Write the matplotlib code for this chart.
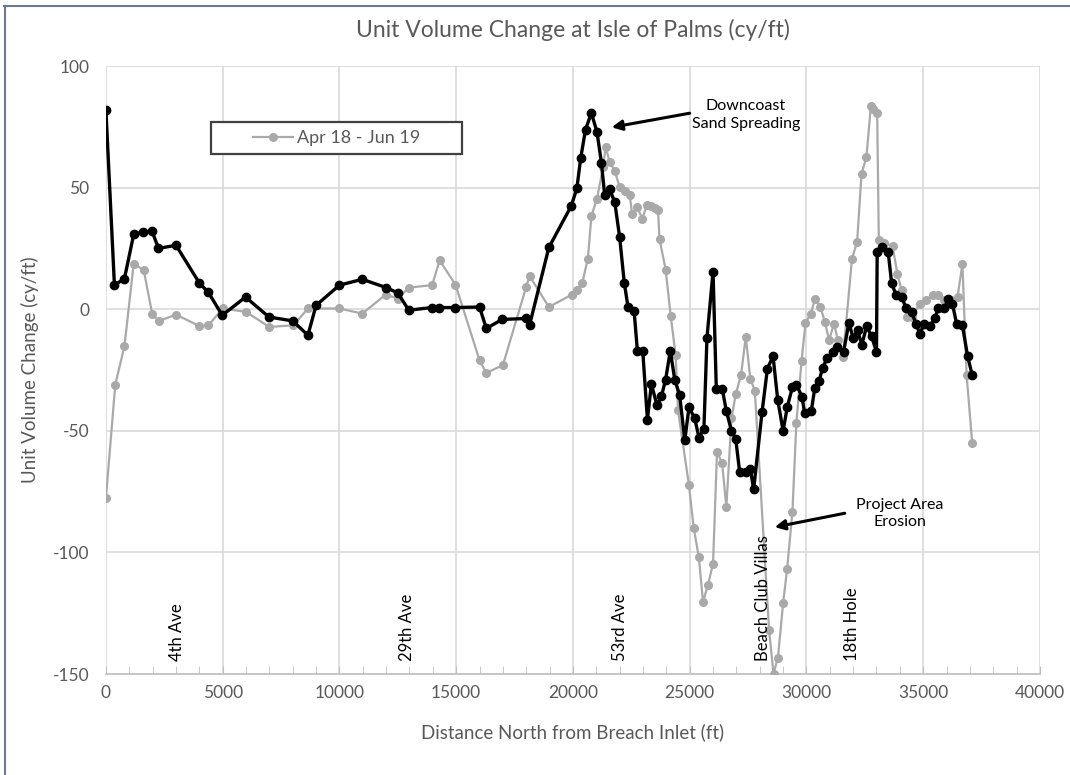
import matplotlib
matplotlib.use("Agg")
import matplotlib.pyplot as plt
from matplotlib.patches import Rectangle
from matplotlib.lines import Line2D
from matplotlib.ticker import MultipleLocator

plt.rcParams['font.family'] = ['Lato', 'DejaVu Sans']
plt.rcParams['axes.unicode_minus'] = False

# Black series (no legend entry)
dist_black = [0, 364, 793, 1190, 1580, 1980, 2250, 3000, 4000, 4390, 4980, 5980,
              6980, 8000, 8650, 9000, 10000, 10980, 12000, 12500, 12970, 13970,
              14260, 14970, 16000, 16290, 16970, 18000, 18140, 18970, 19930, 20170,
              20330, 20540, 20790, 21030, 21220, 21360, 21570, 21790, 22000, 22200,
              22360, 22620, 22760, 22990, 23190, 23360, 23600, 23790, 23970, 24170,
              24360, 24570, 24790, 24970, 25210, 25400, 25610, 25740, 26000, 26140,
              26400, 26570, 26790, 26970, 27140, 27400, 27600, 27740, 28100, 28330,
              28570, 28770, 29000, 29180, 29400, 29570, 29810, 29920, 30210, 30360,
              30540, 30700, 30890, 31130, 31320, 31590, 31820, 32000, 32190, 32370,
              32580, 32790, 33000, 33030, 33250, 33500, 33650, 33840, 34080, 34270,
              34500, 34690, 34860, 35030, 35280, 35500, 35640, 35900, 36070, 36250,
              36430, 36680, 36900, 37100]
vol_black = [81.8, 9.9, 12.6, 30.8, 31.8, 32.0, 25.0, 26.3, 10.8, 6.9, -2.5, 5.0,
             -3.2, -4.8, -10.7, 1.6, 9.9, 12.3, 8.9, 6.7, -0.4, 0.7,
             0.7, 0.7, 0.9, -7.9, -4.2, -3.8, -6.6, 25.4, 42.5, 49.8,
             62.0, 73.9, 80.7, 72.9, 60.2, 46.9, 49.3, 44.1, 29.7, 10.8,
             0.9, -0.7, -17.1, -17.2, -45.4, -30.8, -39.5, -35.8, -28.9, -17.1,
             -28.9, -35.4, -53.9, -40.4, -44.7, -52.8, -49.1, -11.8, 15.4, -32.6,
             -33.0, -41.9, -50.0, -53.2, -66.9, -66.9, -65.9, -74.1, -42.2, -24.4,
             -19.3, -37.2, -50.0, -40.2, -32.0, -31.0, -36.0, -42.5, -41.8, -32.2,
             -29.5, -24.0, -20.0, -17.7, -15.6, -17.5, -5.6, -11.8, -8.7, -14.6,
             -7.0, -11.2, -17.5, 23.6, 25.6, 23.6, 10.6, 5.8, 5.1, 0.3,
             -1.1, -5.9, -10.3, -5.9, -7.0, -3.8, 0.3, 0.3, 4.0, 2.3,
             -5.9, -6.6, -19.2, -27.1]

# Gray series: Apr 18 - Jun 19
dist_gray = [0, 400, 793, 1190, 1620, 1980, 2260, 3000, 4000, 4390, 5000, 6000,
             7000, 8030, 8650, 10000, 10980, 11980, 12500, 12970, 13970, 14290,
             14970, 16000, 16290, 17000, 18000, 18140, 18970, 19950, 20190, 20400,
             20640, 20790, 21030, 21290, 21400, 21570, 21790, 22000, 22240, 22430,
             22540, 22740, 22970, 23170, 23360, 23500, 23640, 23710, 23970, 24190,
             24400, 24500, 24970, 25170, 25390, 25570, 25780, 26000, 26170, 26390,
             26570, 26790, 26970, 27200, 27400, 27600, 27790, 28400, 28590, 28780,
             29000, 29170, 29400, 29570, 29790, 29960, 30190, 30360, 30600, 30790,
             30970, 31180, 31350, 31570, 31950, 32170, 32360, 32570, 32760, 32860,
             33030, 33100, 33330, 33690, 33900, 34080, 34290, 34500, 34860, 35110,
             35400, 35640, 35880, 36210, 36470, 36680, 36860, 37100]
vol_gray = [-77.7, -31.0, -15.2, 18.8, 16.0, -1.8, -4.9, -2.2, -6.9, -6.6, 0.3, -1.1,
            -7.3, -6.6, 0.3, 0.3, -1.8, 6.0, 4.4, 8.9, 9.9, 20.1,
            10.1, -21.0, -26.2, -23.0, 9.2, 13.7, 0.9, 6.0, 8.0, 10.8,
            20.8, 38.2, 45.5, 58.3, 66.7, 60.6, 56.9, 50.3, 48.6, 46.9,
            39.0, 42.1, 37.3, 42.8, 42.4, 41.8, 41.0, 28.7, 16.3, -2.9,
            -19.0, -41.5, -72.4, -89.8, -101.8, -120.3, -113.5, -104.6, -58.7, -63.2,
            -81.5, -44.9, -35.0, -27.1, -11.3, -28.7, -33.5, -132.0, -149.8, -143.3,
            -121.0, -107.0, -83.3, -46.7, -21.4, -5.6, -1.8, 4.0, 0.8, -5.2,
            -12.7, -5.9, -12.7, -19.5, 20.7, 27.7, 55.8, 62.6, 83.6, 82.5,
            80.7, 28.4, 27.3, 25.9, 14.3, 7.8, -3.2, -3.2, 2.3, 3.7,
            5.8, 5.8, 3.7, 3.7, 5.1, 18.5, -27.1, -55.0]

# Street / landmark labels along the bottom
landmarks = ["4th Ave", "29th Ave", "53rd Ave", "Beach Club Villas", "18th Hole"]
landmark_x = [3050, 12900, 22000, 28150, 31950]

series_label = "Apr 18 - Jun 19"
txt = "#595959"
gray = "#a9a9a9"

fig = plt.figure(figsize=(10.7, 7.75), dpi=100)
ax = fig.add_axes([0.099, 0.1303, 0.8729, 0.7845])

ax.plot(dist_gray, vol_gray, color=gray, lw=1.6, marker="o", ms=5.5, zorder=3)
ax.plot(dist_black, vol_black, color="black", lw=2.4, marker="o", ms=6, zorder=4)

ax.set_xlim(0, 40000)
ax.set_ylim(-150, 100)
ax.xaxis.set_major_locator(MultipleLocator(5000))
ax.xaxis.set_minor_locator(MultipleLocator(1000))
ax.yaxis.set_major_locator(MultipleLocator(50))
ax.grid(True, which="major", color="#d9d9d9", lw=1.2, zorder=0)
for s in ["top", "right", "left"]:
    ax.spines[s].set_visible(False)
ax.spines["bottom"].set_color("#bfbfbf")
ax.spines["bottom"].set_linewidth(1.2)
ax.tick_params(axis="x", which="both", direction="in", length=6, color="#bfbfbf",
               labelsize=12.5, labelcolor=txt, pad=8)
ax.tick_params(axis="y", length=0, labelsize=12.5, labelcolor=txt, pad=12)

ax.set_title("Unit Volume Change at Isle of Palms (cy/ft)", color=txt, fontsize=16.5, pad=21)
ax.set_xlabel("Distance North from Breach Inlet (ft)", color=txt, fontsize=13.5, labelpad=16)
ax.set_ylabel("Unit Volume Change (cy/ft)", color=txt, fontsize=13.5, labelpad=10)

for name, x in zip(landmarks, landmark_x):
    ax.text(x, -144.5, name, rotation=90, ha="center", va="bottom", fontsize=12, zorder=5)

# callouts
ax.text(27400, 79.8, "Downcoast\nSand Spreading", ha="center", va="center",
        fontsize=11.5, linespacing=1.35, zorder=6)
ax.annotate("", xy=(21660, 74.8), xytext=(25000, 80.6),
            arrowprops=dict(arrowstyle="-|>", color="black", lw=2.2, mutation_scale=15,
                            shrinkA=0, shrinkB=0), zorder=6)
ax.text(34000, -84, "Project Area\nErosion", ha="center", va="center",
        fontsize=11.5, linespacing=1.35, zorder=6)
ax.annotate("", xy=(28640, -89.6), xytext=(31640, -83.9),
            arrowprops=dict(arrowstyle="-|>", color="black", lw=2.2, mutation_scale=15,
                            shrinkA=0, shrinkB=0), zorder=6)

# legend box
ax.add_patch(Rectangle((0.1124, 0.855), 0.269, 0.053, transform=ax.transAxes,
                       facecolor="white", edgecolor="#404040", lw=1.6, zorder=7))
handle = Line2D([], [], color=gray, lw=1.6, marker="o", ms=5.5)
ax.legend([handle], [series_label], loc="center", bbox_to_anchor=(0.2469, 0.8815),
          frameon=False, fontsize=13, labelcolor=txt, handlelength=2.2,
          handletextpad=0.2).set_zorder(8)

# outer frame lines (top and left)
fig.add_artist(Line2D([0.004, 1.0], [0.992, 0.992], color="#6b7b8f", lw=1.5))
fig.add_artist(Line2D([0.005, 0.005], [0.0, 0.992], color="#6b7b8f", lw=1.5))

fig.savefig("out.png", dpi=100)
